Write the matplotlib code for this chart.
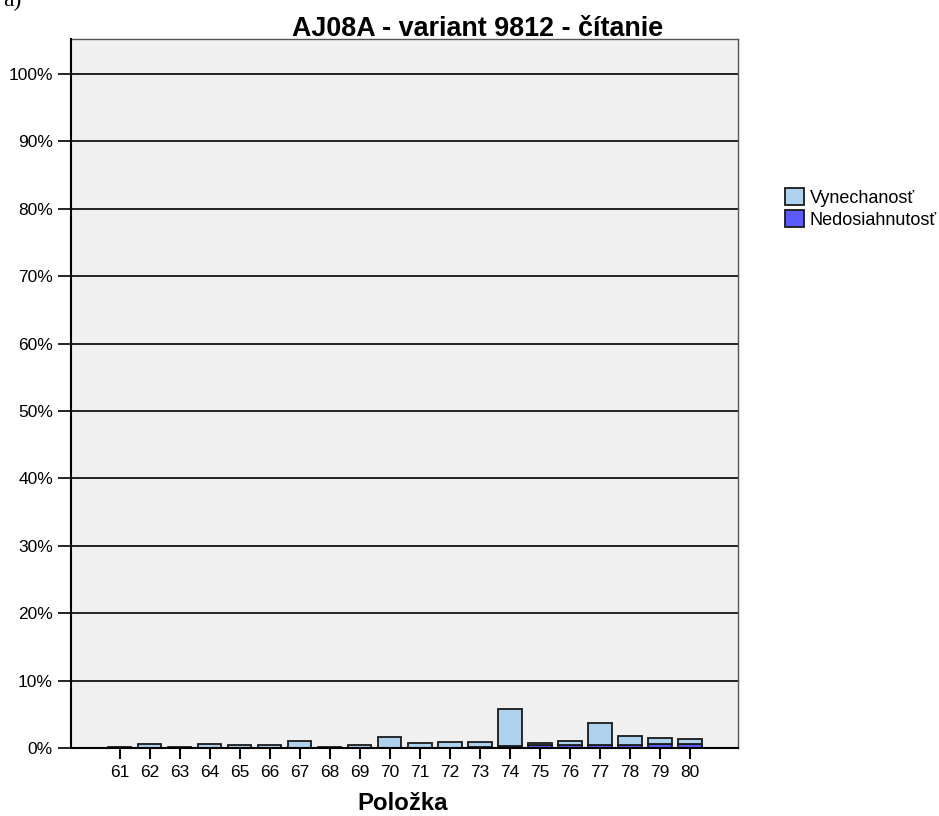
import numpy as np
import matplotlib.pyplot as plt
from matplotlib.patches import Patch

plt.rcParams['font.family'] = ['Liberation Sans', 'DejaVu Sans']

# === DATA ===
items = [str(i) for i in range(61, 81)]
nedosiahnutost = [0.0, 0.0, 0.0, 0.0, 0.0, 0.0, 0.0, 0.0, 0.0, 0.0,
                  0.0, 0.0, 0.1, 0.35, 0.45, 0.4, 0.4, 0.5, 0.6, 0.55]
vynechanost = [0.2, 0.55, 0.2, 0.65, 0.4, 0.4, 1.0, 0.1, 0.5, 1.63,
               0.74, 0.85, 0.75, 5.39, 0.25, 0.65, 3.3, 1.28, 0.83, 0.75]
y_ticks = list(range(0, 101, 10))

light = '#aed1ee'
dark = '#5b5bff'

# === PLOT ===
fig = plt.figure(figsize=(9.39, 8.16), dpi=100)
ax = fig.add_axes([71 / 939, 1 - 748 / 816, (738 - 71) / 939, (748 - 39) / 816])
ax.set_facecolor('#f0f0f0')

x = np.arange(len(items))
ax.bar(x, nedosiahnutost, width=0.77, color=dark, edgecolor='#1a1a1a', linewidth=1.3, zorder=3)
ax.bar(x, vynechanost, bottom=nedosiahnutost, width=0.77, color=light,
       edgecolor='#1a1a1a', linewidth=1.3, zorder=3)

ax.set_xlim(-1.63, 20.6)
ax.set_ylim(0, 105.2)
ax.set_yticks(y_ticks)
ax.set_yticklabels([f"{t}%" for t in y_ticks], fontsize=12.5)
for t in y_ticks[1:]:
    ax.axhline(t, color='black', linewidth=1.2, zorder=1)

ax.set_xticks(x)
ax.set_xticklabels(items, fontsize=12.5)
ax.tick_params(axis='x', length=8, width=1.5, direction='out', pad=4.3)
ax.tick_params(axis='y', length=9.4, width=1.2, direction='out', pad=3.6)

for side in ['left', 'bottom']:
    ax.spines[side].set_color('black')
    ax.spines[side].set_linewidth(1.5)
    ax.spines[side].set_zorder(4)
for side in ['top', 'right']:
    ax.spines[side].set_color('#555555')
    ax.spines[side].set_linewidth(1.0)

fig.text(403 / 939, 1 - 810 / 816, "Položka", fontsize=17.3, fontweight='bold',
         ha='center', va='baseline')
fig.text(477.5 / 939, 1 - 36 / 816, "AJ08A - variant 9812 - čítanie",
         fontsize=19.4, fontweight='bold', ha='center', va='baseline')
fig.text(3 / 939, 1.0, "a)", fontsize=17, family='Liberation Serif', ha='left', va='center')

handles = [Patch(facecolor=light, edgecolor='#1a1a1a', linewidth=1.3, label='Vynechanosť'),
           Patch(facecolor=dark, edgecolor='#1a1a1a', linewidth=1.3, label='Nedosiahnutosť')]
fig.legend(handles=handles, loc='upper left', bbox_to_anchor=(785 / 939, 1 - 188 / 816),
           frameon=False, fontsize=13, handlelength=1.05, handleheight=1.05,
           handletextpad=0.33, labelspacing=0.2, borderaxespad=0, borderpad=0)

fig.savefig('out.png', dpi=100)
